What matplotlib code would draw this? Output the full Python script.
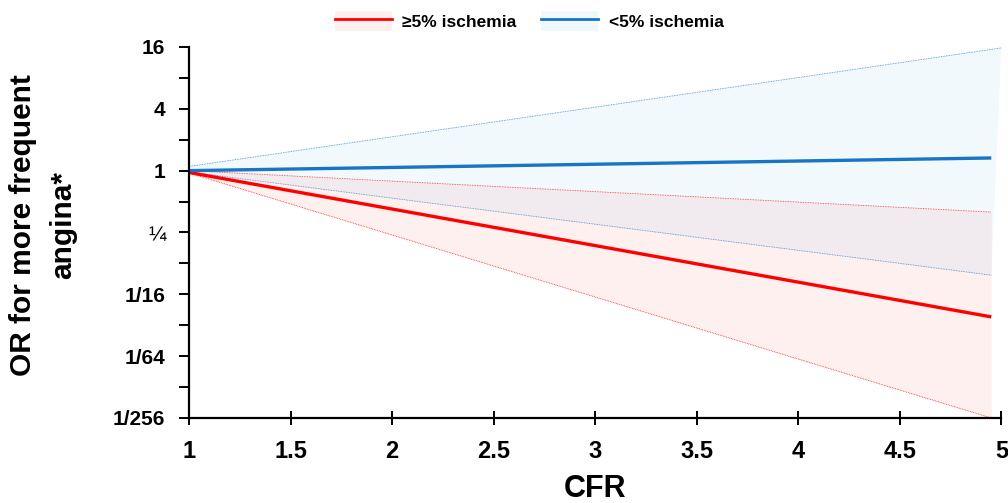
import matplotlib
matplotlib.use("Agg")
import matplotlib.pyplot as plt
from matplotlib.patches import Patch
from matplotlib.lines import Line2D
from matplotlib.legend_handler import HandlerTuple
import numpy as np

plt.rcParams['font.family'] = ['Liberation Sans', 'DejaVu Sans']

# Data (straight lines on log2 scale: values at start and end of CFR range)
cfr = [1.0, 4.95]
cfr_blue_upper = [1.0, 5.0]
red_or = [0.96, 2 ** -4.73]
red_lo = [0.95, 2 ** -8.0]
red_hi = [1.0, 2 ** -1.34]
blue_or = [1.0, 2 ** 0.41]
blue_lo = [0.97, 2 ** -3.38]
blue_hi = [1.1, 2 ** 3.97]

y_ticks = [16, 4, 1, 1/4, 1/16, 1/64, 1/256]
y_ticklabels = ['16', '4', '1', '¼', '1/16', '1/64', '1/256']
y_minor = [8, 2, 1/2, 1/8, 1/32, 1/128]
x_ticks = [1, 1.5, 2, 2.5, 3, 3.5, 4, 4.5, 5]
x_ticklabels = ['1', '1.5', '2', '2.5', '3', '3.5', '4', '4.5', '5']

red = '#FF0000'
blue = '#1874C4'
red_fill = '#FFF0F0'
blue_fill = '#F0F8FC'

fig = plt.figure(figsize=(10.08, 5.03), dpi=100)
ax = fig.add_axes([0.1875, 0.169, 0.806, 0.7376])
ax.set_yscale('log', base=2)

ax.fill(cfr + cfr_blue_upper[::-1], blue_lo + blue_hi[::-1],
        color='#00A0E0', alpha=0.055, lw=0, clip_on=False)
ax.fill_between(cfr, red_lo, red_hi, color='#FF0000', alpha=0.06, lw=0)

ax.plot(cfr, red_lo, color=red, lw=0.6, ls=(0, (1, 1)), alpha=0.8)
ax.plot(cfr, red_hi, color=red, lw=0.6, ls=(0, (1, 1)), alpha=0.8)
ax.plot(cfr, blue_lo, color=blue, lw=0.6, ls=(0, (1, 1)), alpha=0.8)
ax.plot(cfr_blue_upper, blue_hi, color=blue, lw=0.6, ls=(0, (1, 1)), alpha=0.8, clip_on=False)

ax.plot(cfr, red_or, color=red, lw=2.4, solid_capstyle='butt')
ax.plot(cfr, blue_or, color=blue, lw=2.4, solid_capstyle='butt')

ax.set_xlim(1, 5)
ax.set_ylim(1/256, 16)
ax.set_yticks(y_ticks)
ax.set_yticklabels(y_ticklabels)
ax.set_yticks(y_minor, minor=True)
ax.yaxis.set_minor_formatter(plt.NullFormatter())
ax.set_xticks(x_ticks)
ax.set_xticklabels(x_ticklabels)

for s in ['top', 'right']:
    ax.spines[s].set_visible(False)
for s in ['left', 'bottom']:
    ax.spines[s].set_linewidth(1.6)
    ax.spines[s].set_color('black')

ax.tick_params(axis='y', which='both', direction='out', length=7, width=1.4,
               labelsize=15, pad=10)
ax.tick_params(axis='x', which='major', direction='inout', length=10, width=1.4,
               labelsize=17, pad=11)
for lbl in ax.get_xticklabels() + ax.get_yticklabels():
    lbl.set_fontweight('bold')
ax.get_yticklabels()[3].set_fontweight('normal')

ax.set_xlabel('CFR', fontsize=22, fontweight='bold')
ax.xaxis.set_label_coords(0.5, -0.15)
ax.set_ylabel('OR for more frequent\nangina*', fontsize=21.5, fontweight='bold',
              linespacing=1.55)
ax.yaxis.set_label_coords(-0.138, 0.52)

h1 = (Patch(facecolor=red_fill, edgecolor='none'), Line2D([], [], color=red, lw=2))
h2 = (Patch(facecolor=blue_fill, edgecolor='none'), Line2D([], [], color=blue, lw=2))
leg = fig.legend([h1, h2], ['≥5% ischemia', '<5% ischemia'],
                 handler_map={tuple: HandlerTuple(ndivide=1, pad=0)},
                 loc='center', bbox_to_anchor=(0.525, 0.958), ncol=2, frameon=False,
                 prop={'size': 12.5, 'weight': 'bold'}, handlelength=3.3,
                 handleheight=1.4, columnspacing=1.4, handletextpad=0.6)

fig.savefig('out.png', dpi=100)
